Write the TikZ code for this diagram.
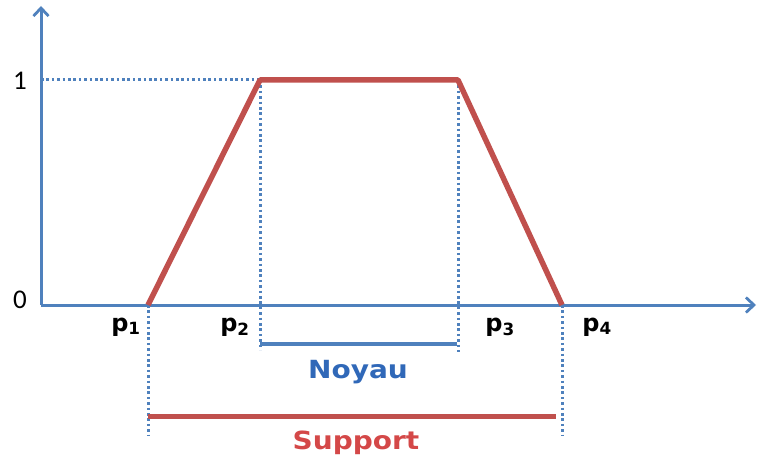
\documentclass[tikz,border=0pt]{standalone}
\usepackage{fontspec}
\setmainfont{DejaVu Sans}
\newfontfamily\numfont{Carlito}
\usetikzlibrary{arrows.meta}
\definecolor{axblue}{RGB}{79,129,189}
\definecolor{trred}{RGB}{192,80,77}
\definecolor{txblue}{RGB}{48,104,184}
\definecolor{txred}{RGB}{212,72,72}
\tikzset{
  axis/.style={axblue,line width=3pt,-{Straight Barb[length=8pt,width=15pt,line width=2.8pt]}},
  guide/.style={axblue,line width=3pt,dash pattern=on 2.6pt off 2.8pt},
  trap/.style={trred,line width=5.5pt,line join=round},
  plab/.style={font=\bfseries\fontsize{24}{24}\selectfont,inner sep=0pt},
  nlab/.style={font=\numfont\fontsize{27}{27}\selectfont,inner sep=0pt},
  bigl/.style={font=\bfseries\fontsize{25}{25}\selectfont,inner sep=0pt,xscale=1.12,transform shape}
}
\begin{document}
\begin{tikzpicture}[x=1pt,y=-1pt]
\useasboundingbox (0,0) rectangle (757,465);
\coordinate (O) at (41,305);
\coordinate (ytop) at (41,6);
\coordinate (xend) at (756,305);
\coordinate (p1) at (148,305);
\coordinate (p2) at (260,80);
\coordinate (p3) at (458,80);
\coordinate (p4) at (562,305);
\coordinate (y1) at (41,80);
\coordinate (p1b) at (148,436);
\coordinate (p4b) at (562,436);
\coordinate (p2b) at (260,350);
\coordinate (p3b) at (458,352);
\coordinate (n1) at (260,344);
\coordinate (n2) at (457,344);
\coordinate (s1) at (148,416);
\coordinate (s2) at (556,416);
% guides
\draw[guide] (y1) -- (p2);
\draw[guide] (p2) -- (p2b);
\draw[guide] (p3) -- (p3b);
\draw[guide] (p1) -- (p1b);
\draw[guide] (p4) -- (p4b);
% axes
\draw[axis] (O) -- (ytop);
\draw[axis] (O) -- (xend);
% trapezoid
\draw[trap] (p1) -- (p2) -- (p3) -- (p4);
% noyau / support
\draw[axblue,line width=4pt] (n1) -- (n2);
\draw[trred,line width=5pt] (s1) -- (s2);
% labels
\node[nlab] (l1) at (20,81) {1};
\node[nlab] (l0) at (20,300) {0};
\node[plab] (lp1) at (126,327) {p\textsubscript{1}};
\node[plab] (lp2) at (235,327) {p\textsubscript{2}};
\node[plab] (lp3) at (500,327) {p\textsubscript{3}};
\node[plab] (lp4) at (597,327) {p\textsubscript{4}};
\node[bigl,txblue] (noyau) at (358,372) {Noyau};
\node[bigl,txred] (support) at (356,443) {Support};
\end{tikzpicture}
\end{document}
